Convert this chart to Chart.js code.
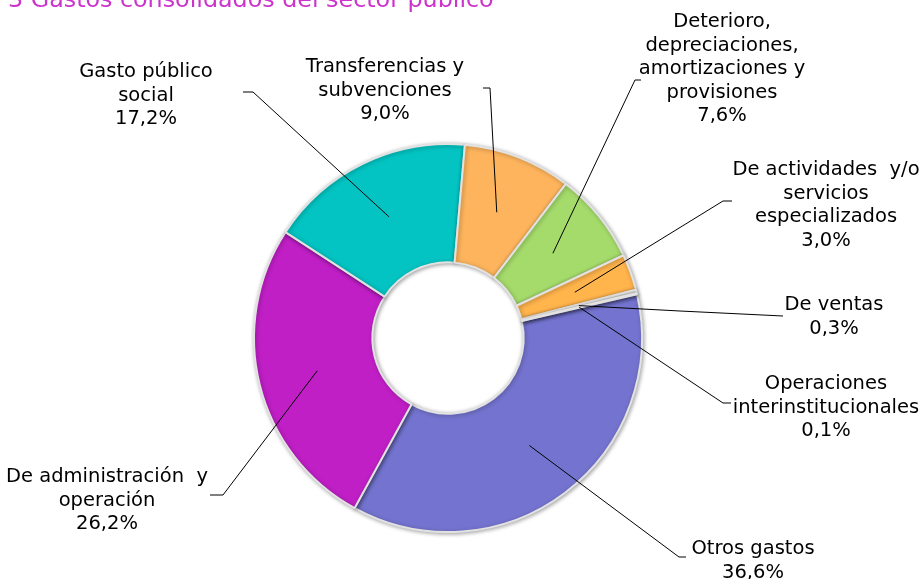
<!DOCTYPE html>
<html>
<head>
<meta charset="utf-8">
<script src="https://cdn.jsdelivr.net/npm/chart.js@4/dist/chart.umd.min.js"></script>
<style>
html,body{margin:0;padding:0;background:#fff;}
#wrap{width:921px;height:579px;position:relative;}
</style>
</head>
<body>
<div id="wrap"><canvas id="c" width="921" height="579"></canvas></div>
<script>
const title = "3 Gastos consolidados del sector público";
const categories = [
  ["Otros gastos"],
  ["De administración  y", "operación"],
  ["Gasto público", "social"],
  ["Transferencias y", "subvenciones"],
  ["Deterioro,", "depreciaciones,", "amortizaciones y", "provisiones"],
  ["De actividades  y/o", "servicios", "especializados"],
  ["De ventas"],
  ["Operaciones", "interinstitucionales"]
];
const values = [36.6, 26.2, 17.2, 9.0, 7.6, 3.0, 0.3, 0.1];
const valueLabels = ["36,6%", "26,2%", "17,2%", "9,0%", "7,6%", "3,0%", "0,3%", "0,1%"];
const colors = ["#7474D0", "#C01FC6", "#03C4C2", "#FDB45C", "#A5DB6B", "#FFB44C", "#F2F2F2", "#C4C4F2"];

// label placement (layout only): text centre x, first line centre y, elbow point, end point
const labelLayout = [
  {x: 753, y: 549, elbow: [679, 557], end: [686, 557]},
  {x: 107, y: 477, elbow: [223, 495], end: [210, 495]},
  {x: 146, y: 72,  elbow: [253, 92],  end: [243, 92]},
  {x: 385, y: 67,  elbow: [490, 88],  end: [483, 88]},
  {x: 722, y: 22,  elbow: [635, 80],  end: [641, 80]},
  {x: 826, y: 170, elbow: [723, 201], end: [732, 201]},
  {x: 834, y: 305, elbow: [680, 311], end: [783, 316]},
  {x: 826, y: 384, elbow: [723, 403], end: [731, 403]}
];
const FONT = '19.5px "DejaVu Sans", Verdana, sans-serif';
const LINE_H = 23.5;

const labelPlugin = {
  id: 'labels',
  afterDraw(chart) {
    const ctx = chart.ctx;
    const meta = chart.getDatasetMeta(0);
    ctx.save();
    // title
    ctx.font = '23.8px "DejaVu Sans", Verdana, sans-serif';
    ctx.fillStyle = '#CC33CC';
    ctx.textAlign = 'left';
    ctx.textBaseline = 'alphabetic';
    ctx.fillText(title, 8, 7);
    // labels and leaders
    meta.data.forEach((arc, i) => {
      const L = labelLayout[i];
      const p = arc.getCenterPoint();
      ctx.strokeStyle = '#000';
      ctx.lineWidth = 1;
      ctx.beginPath();
      ctx.moveTo(p.x, p.y);
      ctx.lineTo(L.elbow[0], L.elbow[1]);
      ctx.lineTo(L.end[0], L.end[1]);
      ctx.stroke();
      const lines = categories[i].concat([valueLabels[i]]);
      ctx.font = FONT;
      ctx.fillStyle = '#000';
      ctx.textAlign = 'center';
      ctx.textBaseline = 'middle';
      lines.forEach((t, k) => ctx.fillText(t, L.x, L.y + k * LINE_H));
    });
    ctx.restore();
  }
};

const shadowPlugin = {
  id: 'ringShadow',
  beforeDatasetsDraw(chart) {
    const ctx = chart.ctx;
    ctx.save();
    ctx.shadowColor = 'rgba(0,0,0,0.35)';
    ctx.shadowBlur = 4;
    ctx.shadowOffsetX = 1;
    ctx.shadowOffsetY = 1;
  },
  afterDatasetsDraw(chart) {
    chart.ctx.restore();
  }
};

new Chart(document.getElementById('c'), {
  type: 'doughnut',
  data: {
    labels: categories.map(c => c.join(' ')),
    datasets: [{
      data: values,
      backgroundColor: colors,
      borderColor: '#E2E2E2',
      borderWidth: 2
    }]
  },
  options: {
    responsive: false,
    animation: false,
    rotation: 77,
    cutout: '39%',
    layout: {padding: {top: 143, bottom: 46, left: 253, right: 278}},
    plugins: {legend: {display: false}, tooltip: {enabled: false}}
  },
  plugins: [shadowPlugin, labelPlugin]
});
</script>
</body>
</html>
